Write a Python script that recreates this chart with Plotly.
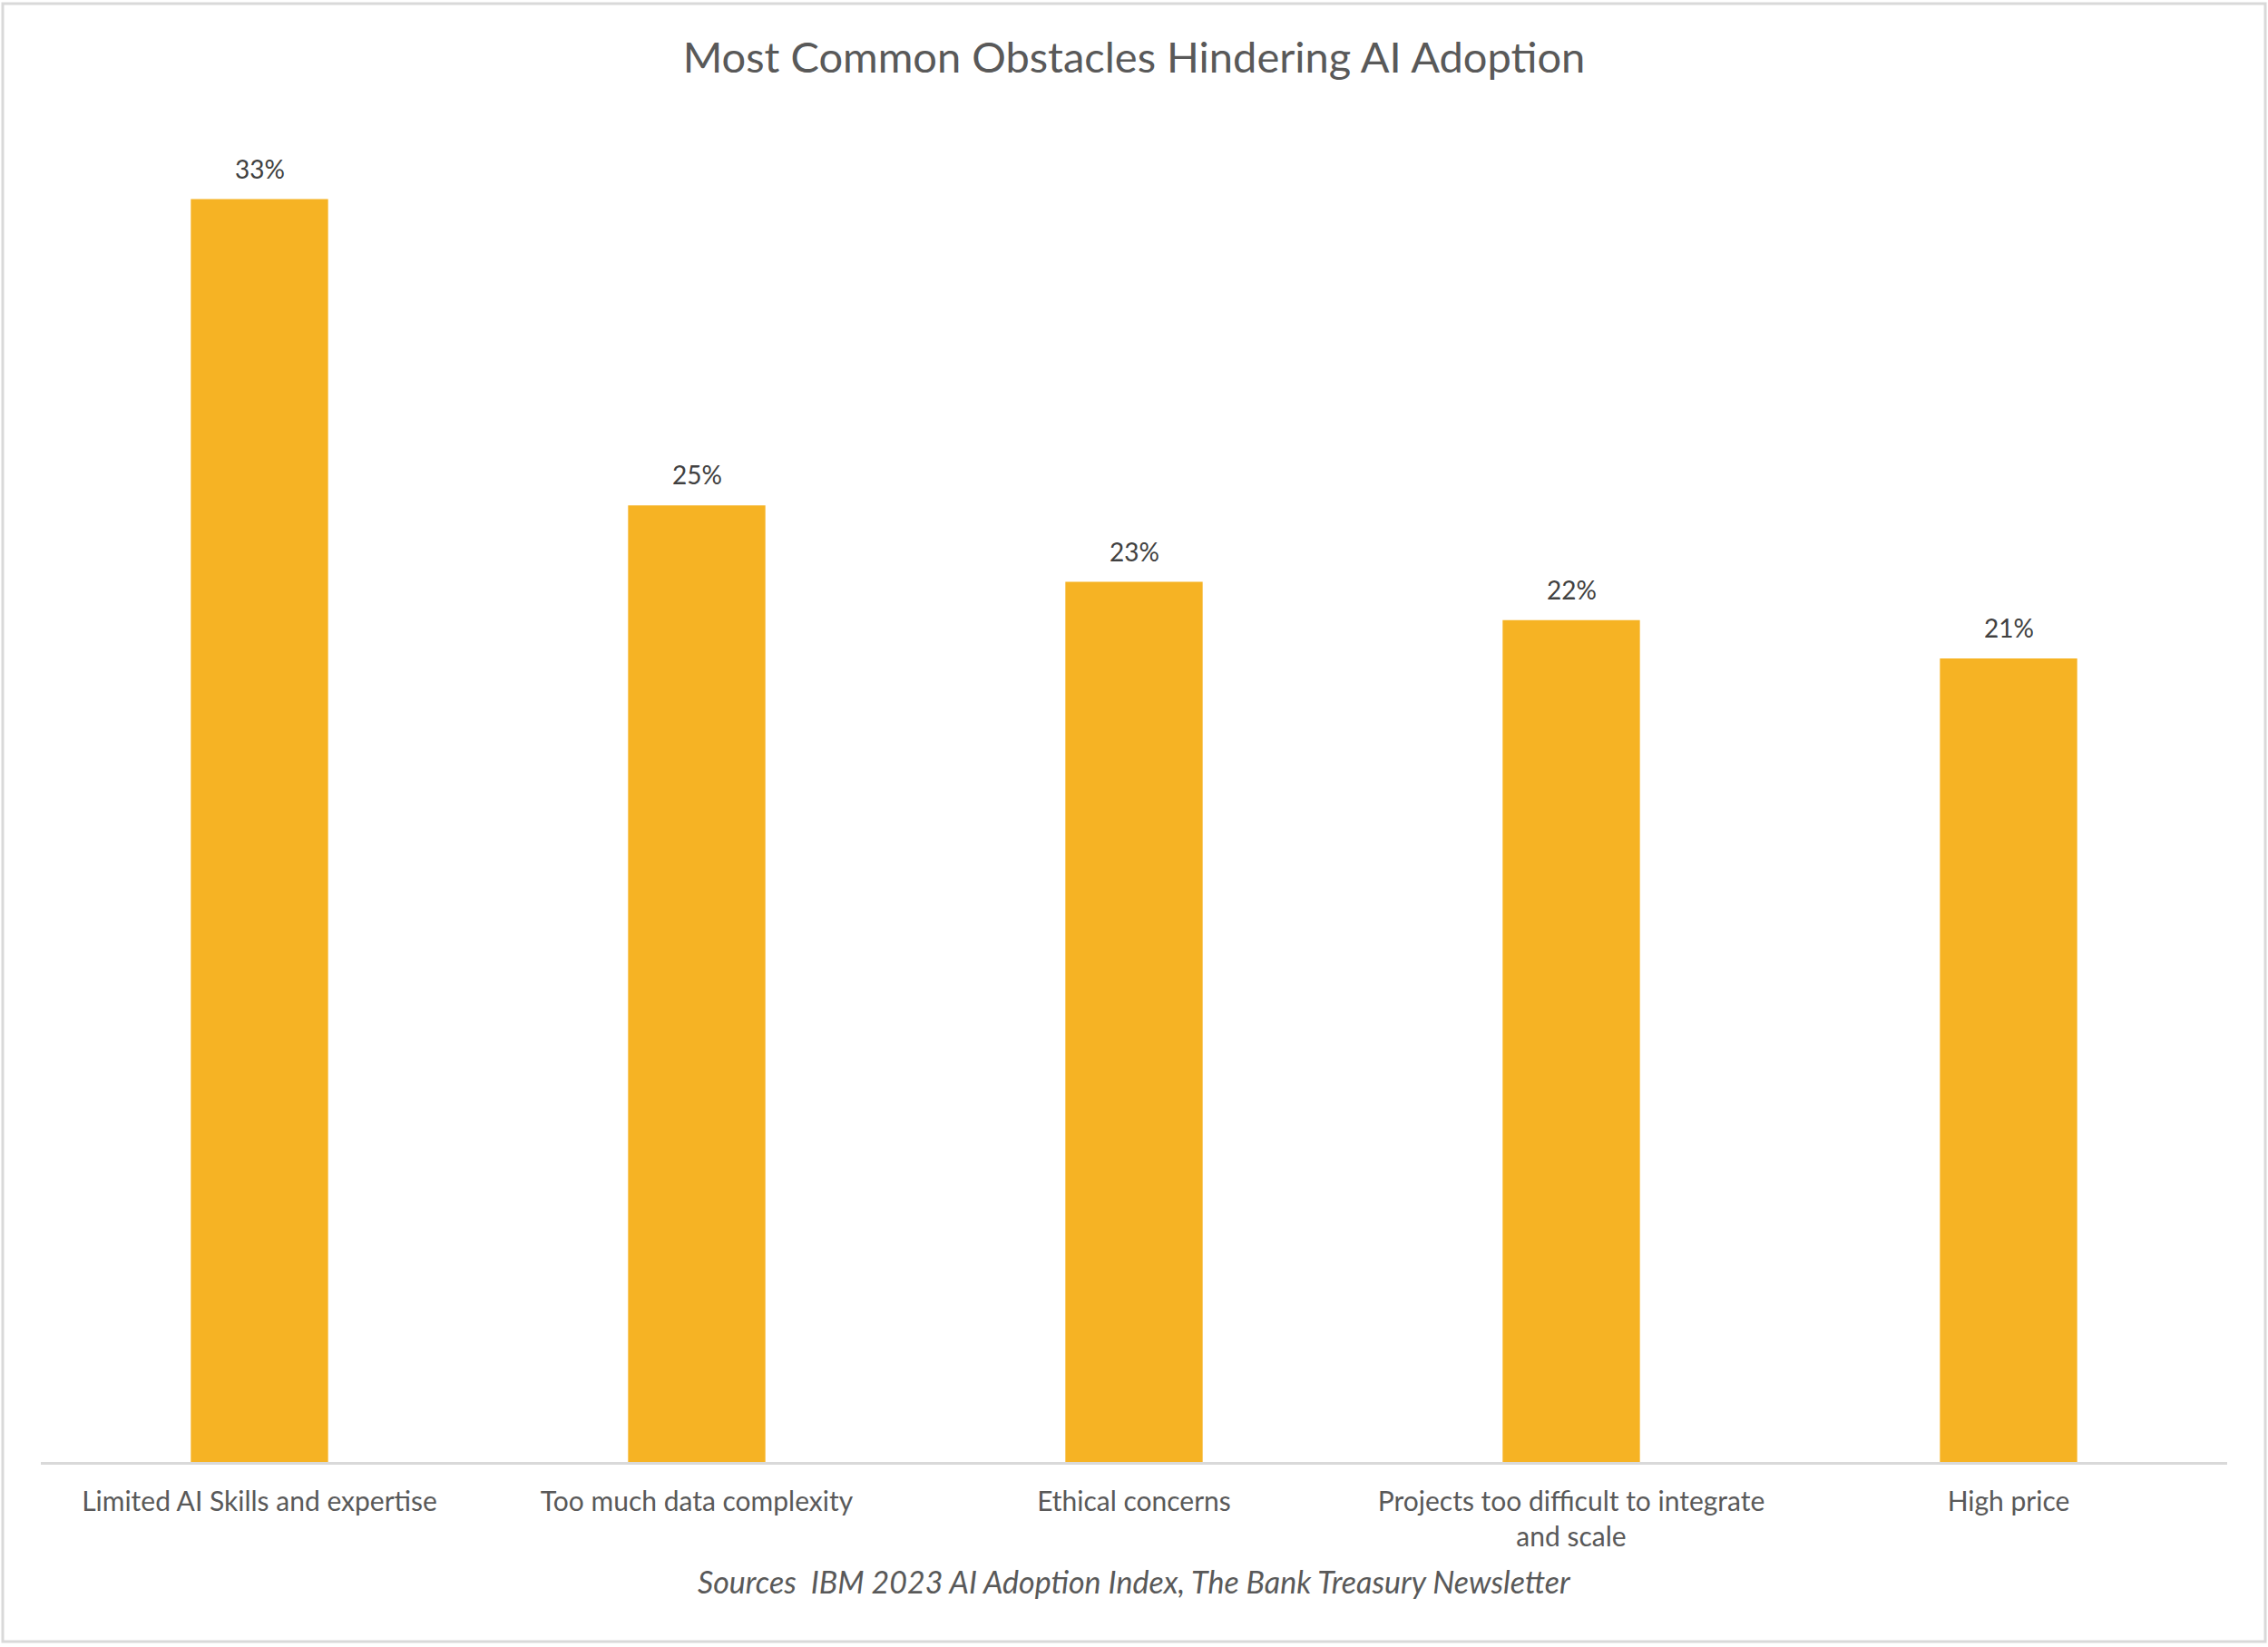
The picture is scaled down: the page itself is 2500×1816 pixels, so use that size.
import plotly.graph_objs as go

# chart data
categories = [
    'Limited AI Skills and expertise',
    'Too much data complexity',
    'Ethical concerns',
    'Projects too difficult to integrate<br>and scale',
    'High price',
]
share_pct = [33, 25, 23, 22, 21]
value_labels = ['33%', '25%', '23%', '22%', '21%']

title_text = 'Most Common Obstacles Hindering AI Adoption'
source_text = 'Sources&nbsp; IBM 2023 AI Adoption Index, The Bank Treasury Newsletter'

W, H = 2500, 1816
ML, MR, MT, MB = 45, 45, 93, 204
plot_w = W - ML - MR
plot_h = H - MT - MB

font_family = 'Lato, Open Sans, sans-serif'

bar = go.Bar(
    x=categories,
    y=share_pct,
    marker=dict(color='#F6B324', line=dict(width=0)),
    width=0.314,
    hoverinfo='skip',
)

layout = go.Layout(
    width=W,
    height=H,
    margin=dict(l=ML, r=MR, t=MT, b=MB),
    paper_bgcolor='white',
    plot_bgcolor='white',
    showlegend=False,
    font=dict(family=font_family, color='#595959'),
    title=dict(
        text=title_text,
        x=0.5,
        xanchor='center',
        y=1 - 64 / H,
        yanchor='middle',
        font=dict(size=47, color='#595959', family=font_family),
    ),
    xaxis=dict(
        type='category',
        showgrid=False,
        showline=True,
        linecolor='#D9D9D9',
        linewidth=3,
        ticks='',
        tickfont=dict(size=30, color='#595959', family=font_family),
        ticklabelstandoff=15,
    ),
    yaxis=dict(
        range=[0, 36],
        visible=False,
        showgrid=False,
        zeroline=False,
    ),
)

fig = go.Figure(data=[bar], layout=layout)

# value labels above the bars
for cat, val, lab in zip(categories, share_pct, value_labels):
    fig.add_annotation(
        x=cat, y=val, text=lab,
        xref='x', yref='y',
        yanchor='middle', yshift=34,
        showarrow=False,
        font=dict(size=28, color='#404040', family=font_family),
    )

fig.add_annotation(
    text='<i>' + source_text + '</i>',
    xref='paper', yref='paper',
    x=0.5, y=-(1743 - 1612) / plot_h,
    xanchor='center', yanchor='middle',
    showarrow=False,
    font=dict(size=34, color='#595959', family=font_family),
)

# light frame around the whole chart
fig.add_shape(
    type='rect',
    xref='paper', yref='paper',
    x0=(3 - ML) / plot_w, x1=(W - 3 - ML) / plot_w,
    y0=(1612 - (H - 6)) / plot_h, y1=(1612 - 4) / plot_h,
    line=dict(color='#D9D9D9', width=3),
    fillcolor='rgba(0,0,0,0)',
    layer='above',
)

fig.write_html('out.html', config={'displayModeBar': False},
               post_script="document.body.style.margin='0';")
